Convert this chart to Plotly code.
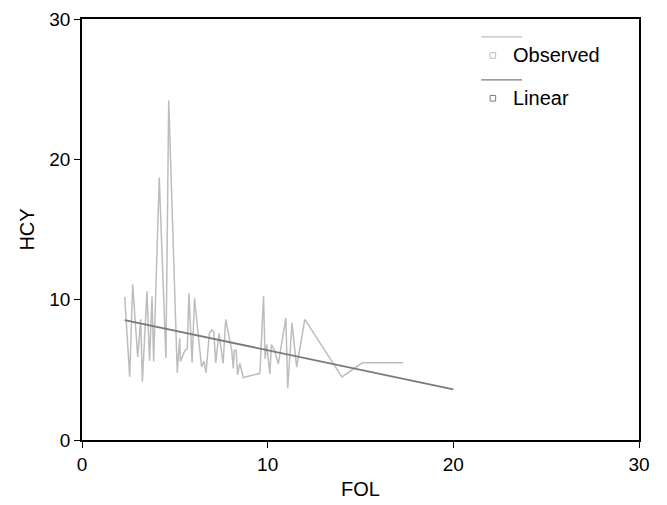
import plotly.graph_objects as go

# Observed series (FOL vs HCY)
fol_obs = [2.30, 2.57, 2.73, 3.00, 3.16, 3.25, 3.50, 3.64, 3.77, 3.86,
           4.16, 4.52, 4.67, 5.13, 5.26, 5.30, 5.55, 5.67, 5.76, 5.93,
           6.06, 6.27, 6.44, 6.57, 6.68, 6.86, 6.98, 7.10, 7.20, 7.38,
           7.60, 7.74, 7.88, 8.06, 8.15, 8.20, 8.30, 8.38, 8.50, 8.69,
           9.58, 9.78, 9.86, 9.95, 10.12, 10.20, 10.38, 10.57, 10.98, 11.08,
           11.31, 11.56, 12.00, 14.00, 15.10, 17.30]
hcy_obs = [10.2, 4.5, 11.1, 5.9, 8.6, 4.15, 10.6, 5.65, 10.25, 5.6,
           18.7, 5.85, 24.2, 4.8, 7.25, 5.6, 6.4, 6.5, 10.45, 5.5,
           10.1, 7.4, 5.2, 5.6, 4.8, 7.6, 7.85, 7.7, 5.5, 7.6,
           5.45, 8.6, 7.5, 6.4, 5.1, 6.4, 6.4, 4.65, 5.45, 4.45,
           4.75, 10.25, 5.8, 6.8, 4.7, 6.8, 6.35, 5.4, 8.7, 3.7,
           8.35, 5.2, 8.6, 4.5, 5.5, 5.5]

# Linear fit series
fol_fit = [2.3, 8.0, 14.0, 17.0, 20.0]
hcy_fit = [8.55, 6.95, 5.3, 4.45, 3.6]

x_ticks = [0, 10, 20, 30]
y_ticks = [0, 10, 20, 30]
legend_names = ["Observed", "Linear"]

obs_color = "#bdbdbd"
fit_color = "#7a7a7a"
font_family = "Liberation Sans, Arial, sans-serif"

fig = go.Figure()
fig.add_trace(go.Scatter(x=fol_obs, y=hcy_obs, mode="lines",
                         line=dict(color=obs_color, width=1.5), showlegend=False))
fig.add_trace(go.Scatter(x=fol_fit, y=hcy_fit, mode="lines",
                         line=dict(color=fit_color, width=1.8), showlegend=False))

# custom legend: line above, small square + label below
leg = [
    dict(name=legend_names[0], color=obs_color, line_y=28.72, row_y=27.4),
    dict(name=legend_names[1], color=fit_color, line_y=25.66, row_y=24.35),
]
for item in leg:
    fig.add_shape(type="line", xref="x", yref="y", x0=21.5, x1=23.7,
                  y0=item["line_y"], y1=item["line_y"],
                  line=dict(color=item["color"], width=1.2))
    fig.add_shape(type="rect", xref="x", yref="y", x0=21.98, x1=22.28,
                  y0=item["row_y"] - 0.2, y1=item["row_y"] + 0.2,
                  line=dict(color=item["color"], width=1), fillcolor="white")
    fig.add_annotation(x=23.1, y=item["row_y"], xref="x", yref="y",
                       text=item["name"], showarrow=False, xanchor="left",
                       yanchor="middle",
                       font=dict(family=font_family, size=20, color="black"))

axis_common = dict(showgrid=False, zeroline=False, showline=True,
                   linecolor="black", linewidth=1.5, mirror=True,
                   ticks="outside", ticklen=6, tickwidth=1.2, tickcolor="black",
                   tickfont=dict(family=font_family, size=19, color="black"))

fig.update_xaxes(range=[0, 30], tickvals=x_ticks, title=dict(text="FOL",
                 font=dict(family=font_family, size=20, color="black"), standoff=8),
                 **axis_common)
fig.update_yaxes(range=[0, 30], tickvals=y_ticks, title=dict(text="HCY",
                 font=dict(family=font_family, size=20, color="black"), standoff=9),
                 **axis_common)

# page body has an 8px margin, so the figure is 8px smaller and shifted
fig.update_layout(width=659, height=497,
                  margin=dict(l=74, r=28, t=11, b=65, autoexpand=False),
                  plot_bgcolor="white", paper_bgcolor="white",
                  showlegend=False)

fig.write_html("out.html")
